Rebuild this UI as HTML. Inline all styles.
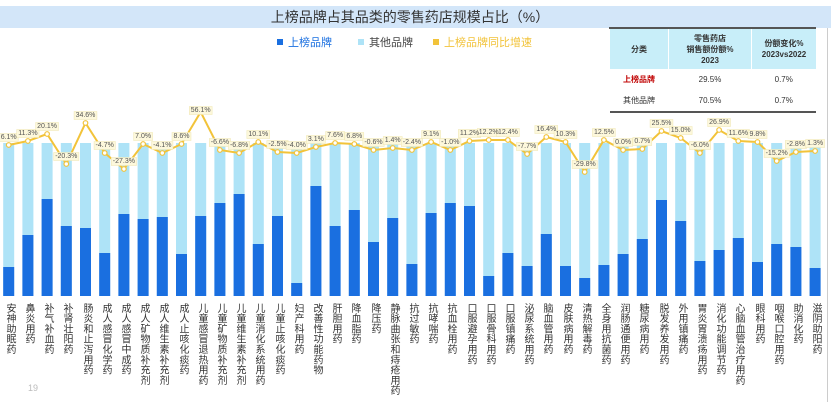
<!DOCTYPE html>
<html><head><meta charset="utf-8">
<style>
html,body{margin:0;padding:0;background:#fff;}
body{width:831px;height:402px;position:relative;overflow:hidden;font-family:"Liberation Sans","Noto Sans CJK SC",sans-serif;}
.band{position:absolute;left:0;top:6px;width:831px;height:22px;background:#d3e6f9;}
.title{position:absolute;left:0;top:6px;width:820px;text-align:center;font-size:14px;line-height:22px;color:#333;}
.rline{position:absolute;left:827px;top:28px;width:1px;height:374px;background:#ccc;}
.legend{position:absolute;top:36px;font-size:11px;line-height:14px;}
.legend span.sq{display:inline-block;width:6px;height:6px;margin-right:5px;vertical-align:1px;}
table{position:absolute;left:609px;top:27px;width:207px;border-collapse:collapse;font-size:8px;color:#333;text-align:center;}
th{background:#c8eef9;font-weight:bold;height:40px;line-height:11px;border-top:2px solid #555;border-left:1px solid #fff;padding:0;}
td{height:21px;padding:0;}
tr.last td{border-bottom:2px solid #555;}
.xl{position:absolute;top:303px;width:12px;writing-mode:vertical-rl;font-size:10px;line-height:12px;color:#333;letter-spacing:0.3px;}
.pg{position:absolute;left:28px;top:383px;font-size:9px;color:#bbb;}
</style></head><body>
<div class="band"></div>
<div class="title">上榜品牌占其品类的零售药店规模占比（%）</div>
<div class="rline"></div>
<div class="legend" style="left:277px;color:#1a6fe0;"><span class="sq" style="background:#1a6fe0"></span>上榜品牌</div>
<div class="legend" style="left:358px;color:#444;"><span class="sq" style="background:#aee3f7"></span>其他品牌</div>
<div class="legend" style="left:433px;color:#f2c33a;"><span class="sq" style="background:#f2c33a"></span>上榜品牌同比增速</div>
<table>
<tr><th style="width:58px">分类</th><th style="width:82px">零售药店<br>销售额份额%<br>2023</th><th>份额变化%<br>2023vs2022</th></tr>
<tr><td style="color:#c00000;font-weight:bold">上榜品牌</td><td>29.5%</td><td>0.7%</td></tr>
<tr class="last"><td>其他品牌</td><td>70.5%</td><td>0.7%</td></tr>
</table>
<svg id="c" width="831" height="402" style="position:absolute;left:0;top:0">
<g id="bars"></g>
<polyline id="ln" fill="none" stroke="#f2c33a" stroke-width="2"/>
<g id="pts"></g>
<g id="boxes"></g>
<g id="dls" font-size="7" fill="#555" text-anchor="middle" font-family="Liberation Sans, sans-serif">
<text x="8.7" y="139">6.1%</text><text x="27.9" y="135">11.3%</text><text x="47.1" y="128">20.1%</text><text x="66.3" y="158">-20.3%</text><text x="85.5" y="117">34.6%</text><text x="104.7" y="147">-4.7%</text><text x="123.9" y="163">-27.3%</text><text x="143.1" y="138">7.0%</text><text x="162.3" y="147">-4.1%</text><text x="181.5" y="138">8.6%</text><text x="200.7" y="112">56.1%</text><text x="219.9" y="144">-6.6%</text><text x="239.1" y="147">-6.8%</text><text x="258.3" y="136">10.1%</text><text x="277.5" y="146">-2.5%</text><text x="296.7" y="147">-4.0%</text><text x="315.9" y="141">3.1%</text><text x="335.1" y="137">7.6%</text><text x="354.3" y="138">6.8%</text><text x="373.5" y="144">-0.6%</text><text x="392.7" y="142">1.4%</text><text x="411.9" y="144">-2.4%</text><text x="431.1" y="136">9.1%</text><text x="450.3" y="144">-1.0%</text><text x="469.5" y="135">11.2%</text><text x="488.7" y="134">12.2%</text><text x="507.9" y="134">12.4%</text><text x="527.1" y="148">-7.7%</text><text x="546.3" y="131">16.4%</text><text x="565.5" y="136">10.3%</text><text x="584.7" y="166">-29.8%</text><text x="603.9" y="134">12.5%</text><text x="623.1" y="144">0.0%</text><text x="642.3" y="143">0.7%</text><text x="661.5" y="125">25.5%</text><text x="680.7" y="132">15.0%</text><text x="699.9" y="147">-6.0%</text><text x="719.1" y="124">26.9%</text><text x="738.3" y="135">11.6%</text><text x="757.5" y="136">9.8%</text><text x="776.7" y="155">-15.2%</text><text x="795.9" y="146">-2.8%</text><text x="815.1" y="145">1.3%</text>
</g>
</svg>
<div id="xls">
<div class="xl" style="left:3px">安神助眠药</div><div class="xl" style="left:22px">鼻炎用药</div><div class="xl" style="left:41px">补气补血药</div><div class="xl" style="left:60px">补肾壮阳药</div><div class="xl" style="left:80px">肠炎和止泻用药</div><div class="xl" style="left:99px">成人感冒化学药</div><div class="xl" style="left:118px">成人感冒中成药</div><div class="xl" style="left:137px">成人矿物质补充剂</div><div class="xl" style="left:156px">成人维生素补充剂</div><div class="xl" style="left:176px">成人止咳化痰药</div><div class="xl" style="left:195px">儿童感冒退热用药</div><div class="xl" style="left:214px">儿童矿物质补充剂</div><div class="xl" style="left:233px">儿童维生素补充剂</div><div class="xl" style="left:252px">儿童消化系统用药</div><div class="xl" style="left:272px">儿童止咳化痰药</div><div class="xl" style="left:291px">妇产科用药</div><div class="xl" style="left:310px">改善性功能药物</div><div class="xl" style="left:329px">肝胆用药</div><div class="xl" style="left:348px">降血脂药</div><div class="xl" style="left:368px">降压药</div><div class="xl" style="left:387px">静脉曲张和痔疮用药</div><div class="xl" style="left:406px">抗过敏药</div><div class="xl" style="left:425px">抗哮喘药</div><div class="xl" style="left:444px">抗血栓用药</div><div class="xl" style="left:464px">口服避孕用药</div><div class="xl" style="left:483px">口服骨科用药</div><div class="xl" style="left:502px">口服镇痛药</div><div class="xl" style="left:521px">泌尿系统用药</div><div class="xl" style="left:540px">脑血管用药</div><div class="xl" style="left:560px">皮肤病用药</div><div class="xl" style="left:579px">清热解毒药</div><div class="xl" style="left:598px">全身用抗菌药</div><div class="xl" style="left:617px">润肠通便用药</div><div class="xl" style="left:636px">糖尿病用药</div><div class="xl" style="left:656px">脱发养发用药</div><div class="xl" style="left:675px">外用镇痛药</div><div class="xl" style="left:694px">胃炎胃溃疡用药</div><div class="xl" style="left:713px">消化功能调节药</div><div class="xl" style="left:732px">心脑血管治疗用药</div><div class="xl" style="left:752px">眼科用药</div><div class="xl" style="left:771px">咽喉口腔用药</div><div class="xl" style="left:790px">助消化药</div><div class="xl" style="left:809px">滋阴助阳药</div>
</div>
<div class="pg">19</div>
<script>
var d=[267,235,199,226,228,253,214,219,217,254,216,203,194,244,216,283,186,226,210,242,218,264,213,203,206,276,253,266,234,266,278,265,254,239,200,221,261,250,238,262,244,247,268];
var L=[145,141,134,164,123,153,169,144,153,144,112,150,153,142,152,153,147,143,144,150,148,150,142,150,141,140,140,154,137,142,172,140,150,149,131,138,153,130,141,142,161,152,151];
var ns="http://www.w3.org/2000/svg",b=document.getElementById("bars"),p=document.getElementById("pts"),pts=[];
function el(t,a,par){var e=document.createElementNS(ns,t);for(var k in a)e.setAttribute(k,a[k]);par.appendChild(e);return e;}
for(var i=0;i<43;i++){var cx=8.7+19.2*i;
el("rect",{x:cx-5.5,y:143,width:11,height:153,fill:"#aee3f7"},b);
el("rect",{x:cx-5.5,y:d[i],width:11,height:296-d[i],fill:"#1a6fe0"},b);
pts.push(cx+","+L[i]);
el("circle",{cx:cx,cy:L[i],r:2.3,fill:"#fff",stroke:"#f2c33a","stroke-width":1.2},p);}
document.getElementById("ln").setAttribute("points",pts.join(" "));
var bx=document.getElementById("boxes"),ts=document.querySelectorAll("#dls text");
for(var j=0;j<ts.length;j++){var r=ts[j].getBBox();el("rect",{x:r.x-1.5,y:r.y-0.5,width:r.width+3,height:r.height+1,fill:"#fdf8dc",stroke:"#efe6b0","stroke-width":0.5},bx);}
</script>
</body></html>
